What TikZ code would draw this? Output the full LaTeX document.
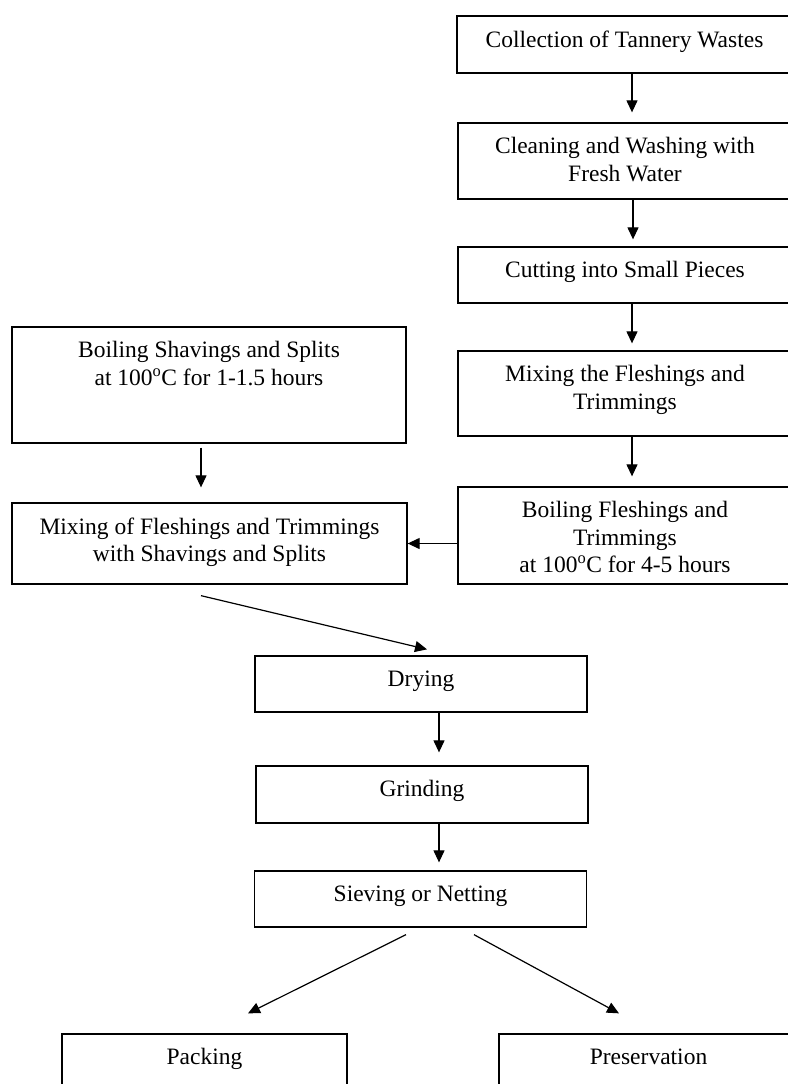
\documentclass[tikz,border=0pt]{standalone}
\usepackage{fontspec}
\setmainfont{Liberation Serif}
\usetikzlibrary{arrows.meta,calc}
\tikzset{
    % Process box
    stepbox/.style={
        draw=black,
        line width=1.3pt,
        rectangle,
        inner sep=0pt,
        minimum width=334pt
    },
    % Box text, set at the top of its box
    steptext/.style={
        anchor=north,
        yshift=-15pt,
        inner sep=0pt,
        align=center,
        font=\fontsize{23.5pt}{27.5pt}\selectfont
    },
    % Arrow style (straight lines only)
    flowarrow/.style={
        -{Triangle[length=12pt,width=11pt]},
        line width=1.2pt,
        draw=black
    }
}
\begin{document}
\begin{tikzpicture}[x=1pt, y=-1pt]
        \useasboundingbox (0,0) rectangle (787,1084);

        % Right column
        \node[stepbox, minimum width=335pt, minimum height=57pt, label={[steptext]north:{Collection of Tannery Wastes}}] (collect) at (624.5,44.5) {};
        \node[stepbox, minimum height=76pt, label={[steptext]north:{Cleaning and Washing with\\Fresh Water}}] (clean) at (625,161) {};
        \node[stepbox, minimum height=56pt, label={[steptext]north:{Cutting into Small Pieces}}] (cut) at (625,275) {};
        \node[stepbox, minimum height=85pt, label={[steptext]north:{Mixing the Fleshings and\\Trimmings}}] (mixflesh) at (625,393.5) {};
        \node[stepbox, minimum height=97pt, label={[steptext]north:{Boiling Fleshings and\\Trimmings\\at 100\textsuperscript{o}C for 4-5 hours}}] (boilflesh) at (625,535.5) {};

        % Left column
        \node[stepbox, minimum width=394pt, minimum height=116pt, label={[steptext]north:{Boiling Shavings and Splits\\at 100\textsuperscript{o}C for 1-1.5 hours}}] (boilshave) at (209,385) {};
        \node[stepbox, minimum width=395pt, minimum height=81pt, label={[steptext]north:{Mixing of Fleshings and Trimmings\\with Shavings and Splits}}] (mixall) at (209.5,543.5) {};

        % Middle column
        \node[stepbox, minimum width=332pt, minimum height=56pt, label={[steptext]north:Drying}] (drying) at (421,684) {};
        \node[stepbox, minimum width=332pt, minimum height=57pt, label={[steptext]north:Grinding}] (grind) at (422,794.5) {};
        \node[stepbox, minimum width=332pt, minimum height=56pt, label={[steptext]north:{Sieving or Netting}}] (sieve) at (420.5,899) {};

        % End products
        \node[stepbox, minimum width=285pt, minimum height=76pt, label={[steptext]north:Packing}] (pack) at (204.5,1072) {};
        \node[stepbox, minimum width=299pt, minimum height=76pt, label={[steptext]north:Preservation}] (preserve) at (648.5,1072) {};

        % Arrows
        \draw[flowarrow, shorten >=10pt] ([xshift=7.5pt]collect.south) -- ([xshift=7.5pt]collect.south |- clean.north);
        \draw[flowarrow, shorten >=7pt] ([xshift=8pt]clean.south) -- ([xshift=8pt]clean.south |- cut.north);
        \draw[flowarrow, shorten >=7pt] ([xshift=7pt]cut.south) -- ([xshift=7pt]cut.south |- mixflesh.north);
        \draw[flowarrow, shorten >=10pt] ([xshift=7pt]mixflesh.south) -- ([xshift=7pt]mixflesh.south |- boilflesh.north);
        \draw[flowarrow, shorten <=4pt, shorten >=15pt] ([xshift=-8pt]boilshave.south) -- ([xshift=-8pt]boilshave.south |- mixall.north);
        \draw[flowarrow] (boilflesh.west |- mixall.east) -- (mixall.east);
        \draw[flowarrow] ([xshift=-8.5pt,yshift=-11pt]mixall.south) -- ([xshift=6pt,yshift=6pt]drying.north);
        \draw[flowarrow, shorten >=13pt] ([xshift=18pt]drying.south) -- ([xshift=18pt]drying.south |- grind.north);
        \draw[flowarrow, shorten >=8pt] ([xshift=17pt]grind.south) -- ([xshift=17pt]grind.south |- sieve.north);
        \draw[flowarrow] ([xshift=-14.5pt,yshift=-7pt]sieve.south) -- ([xshift=43.5pt,yshift=20pt]pack.north);
        \draw[flowarrow] ([xshift=53.5pt,yshift=-7pt]sieve.south) -- ([xshift=-29.5pt,yshift=20pt]preserve.north);
    \end{tikzpicture}
\end{document}
